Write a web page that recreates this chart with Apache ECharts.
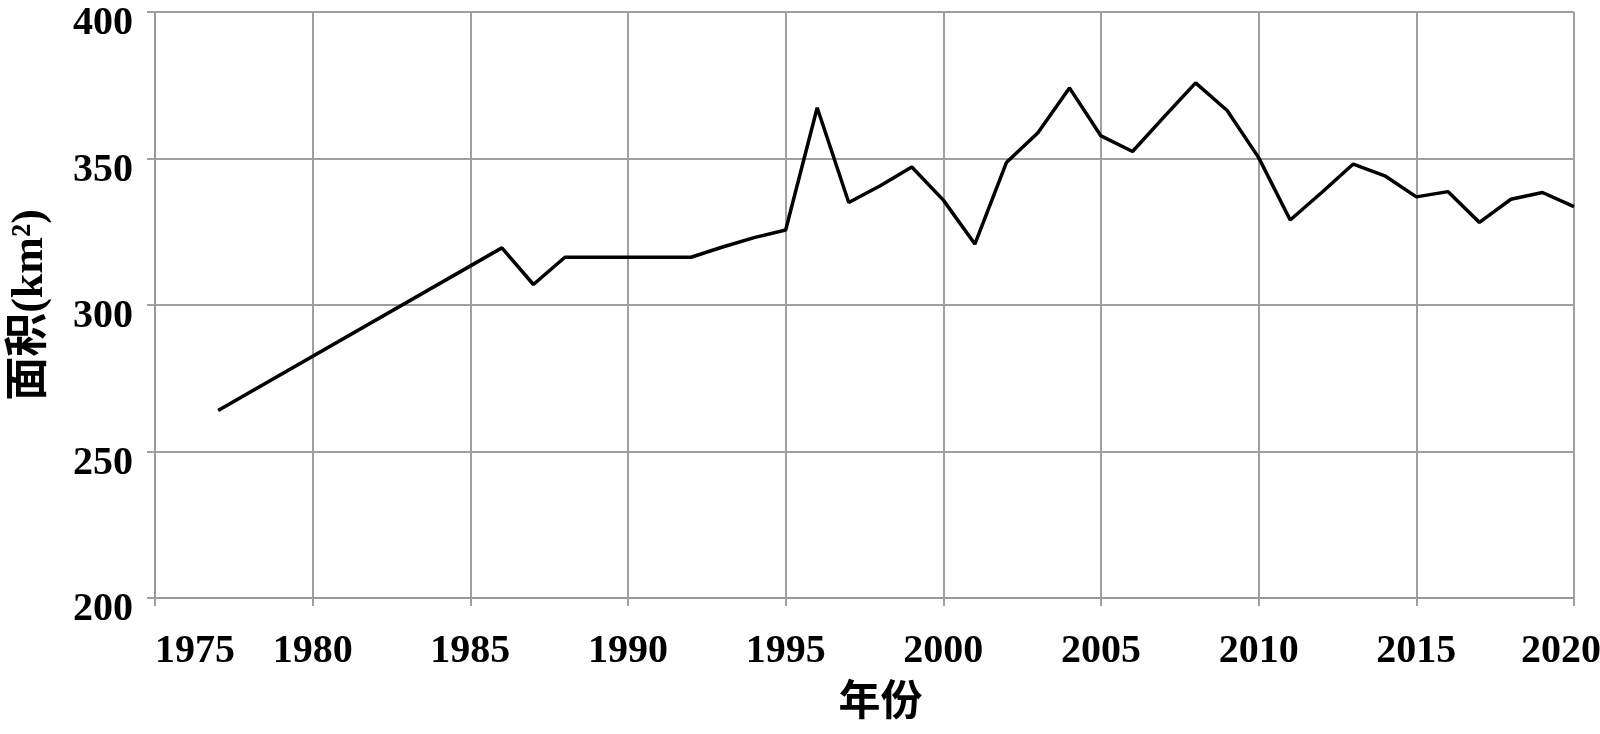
<!DOCTYPE html>
<html>
<head>
<meta charset="utf-8">
<title>面积变化</title>
<script src="https://cdn.jsdelivr.net/npm/echarts@6/dist/echarts.min.js"></script>
<style>
  html, body { margin: 0; padding: 0; background: #fff; }
  #chart { width: 1600px; height: 734px; }
</style>
</head>
<body>
<div id="chart"></div>
<script>
  // 基础数据
  var years = [1977, 1986, 1987, 1988, 1989, 1990, 1991, 1992, 1993, 1994, 1995,
    1996, 1997, 1998, 1999, 2000, 2001, 2002, 2003, 2004, 2005, 2006, 2007,
    2008, 2009, 2010, 2011, 2012, 2013, 2014, 2015, 2016, 2017, 2018, 2019, 2020];
  var areas = [264, 319.5, 307, 316.3, 316.3, 316.3, 316.3, 316.3, 319.8, 323, 325.6,
    367.3, 335, 340.7, 347.1, 335.8, 320.8, 348.6, 358.8, 374.1, 357.7, 352.4, 364.2,
    375.8, 366.4, 350.3, 329, 338.4, 348.1, 344.1, 336.9, 338.7, 328.2, 336.1, 338.4, 333.6];
  var xTicks = [1975, 2020, 5];   // min, max, interval
  var yTicks = [200, 400, 50];

  var serif = "'Times New Roman', 'Liberation Serif', 'Noto Sans CJK SC', serif";
  var gridColor = '#a0a0a0';

  var myChart = echarts.init(document.getElementById('chart'));
  var option = {
    animation: false,
    backgroundColor: '#fff',
    grid: {
      left: 155,
      right: 26,
      top: 12,
      bottom: 136,
      outerBoundsMode: 'none'
    },
    xAxis: {
      type: 'value',
      min: xTicks[0],
      max: xTicks[1],
      interval: xTicks[2],
      name: '年份',
      nameLocation: 'middle',
      nameGap: 80,
      nameTextStyle: {
        fontFamily: "'Noto Sans CJK SC', sans-serif",
        fontWeight: 'bold',
        fontSize: 42,
        color: '#000',
        padding: [0, 0, 0, 32]
      },
      axisLine: { lineStyle: { color: '#999', width: 2 } },
      axisTick: { show: true, length: 8, lineStyle: { color: gridColor, width: 2 } },
      axisLabel: {
        margin: 34,
        fontFamily: serif,
        fontWeight: 'bold',
        fontSize: 40,
        color: '#000',
        alignMinLabel: 'left',
        formatter: function (v) {
          // 最后一个标签往左挪一点，免得被裁掉
          return v === xTicks[1] ? '{last|' + v + '}' : String(v);
        },
        rich: {
          last: {
            padding: [0, 26, 0, 0],
            fontFamily: serif,
            fontWeight: 'bold',
            fontSize: 40,
            color: '#000'
          }
        }
      },
      splitLine: { show: true, lineStyle: { color: gridColor, width: 2 } }
    },
    yAxis: {
      type: 'value',
      min: yTicks[0],
      max: yTicks[1],
      interval: yTicks[2],
      name: '面积(km²)',
      nameLocation: 'middle',
      nameGap: 102,
      nameTextStyle: {
        fontFamily: serif,
        fontWeight: 'bold',
        fontSize: 44,
        color: '#000'
      },
      axisLine: { show: true, lineStyle: { color: '#999', width: 2 } },
      axisTick: { show: true, length: 8, lineStyle: { color: gridColor, width: 2 } },
      axisLabel: {
        margin: 22,
        verticalAlign: 'top',
        lineHeight: 24,
        fontFamily: serif,
        fontWeight: 'bold',
        fontSize: 40,
        color: '#000'
      },
      splitLine: { show: true, lineStyle: { color: gridColor, width: 2 } }
    },
    series: [
      {
        name: '面积',
        type: 'line',
        showSymbol: false,
        symbol: 'none',
        data: years.map(function (y, i) { return [y, areas[i]]; }),
        lineStyle: { color: '#000', width: 3.5 }
      }
    ]
  };

  myChart.setOption(option);
</script>
</body>
</html>
